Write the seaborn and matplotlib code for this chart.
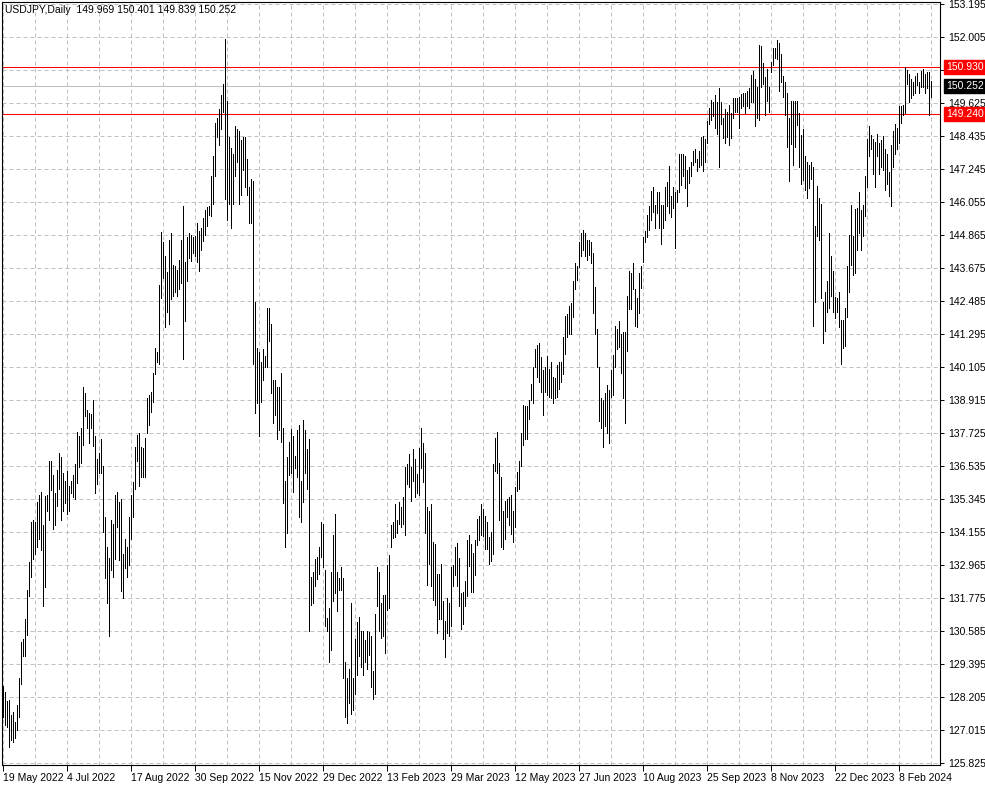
import numpy as np
import pandas as pd
import matplotlib
matplotlib.use("Agg")
import matplotlib.pyplot as plt
import matplotlib.transforms as mtransforms
import seaborn as sns

symbol = "USDJPY,Daily"
last_bar = [149.969, 150.401, 149.839, 150.252]  # open high low close of the last bar

# daily highs / lows, 19 May 2022 .. 1 Mar 2024
highs = [
    128.6, 128.37, 128.05, 128.1, 127.57, 127.65, 127.3, 127.9, 128.9, 130.2,
    130.28, 131.0, 132.05, 133.06, 134.5, 134.57, 134.5, 135.22, 135.5, 135.58,
    134.4, 135.45, 135.5, 136.7, 136.7, 136.2, 135.57, 136.4, 137.0, 136.87,
    136.27, 136.0, 136.37, 135.8, 136.0, 136.2, 136.6, 137.77, 137.6, 137.9,
    139.4, 139.15, 138.57, 138.43, 138.4, 138.9, 137.6, 136.8, 137.0, 137.5,
    136.55, 134.7, 133.6, 133.2, 134.57, 134.46, 135.5, 135.58, 135.22, 135.33,
    133.35, 133.92, 133.63, 134.7, 135.5, 135.94, 137.23, 137.66, 137.74, 137.23,
    137.2, 137.55, 139.0, 139.1, 139.2, 139.9, 140.8, 140.66, 143.07, 144.98,
    144.6, 144.09, 143.52, 144.7, 144.95, 143.8, 143.73, 143.62, 143.95, 144.7,
    145.9, 143.88, 144.8, 144.92, 144.88, 144.8, 144.84, 145.3, 145.0, 145.13,
    145.46, 145.78, 145.86, 145.9, 146.98, 147.7, 148.9, 149.1, 149.4, 149.9,
    150.3, 151.95, 149.7, 148.4, 148.0, 147.8, 148.8, 148.7, 148.6, 148.3,
    148.4, 148.4, 147.6, 146.6, 146.9, 146.8, 142.46, 140.8, 140.63, 140.3,
    140.74, 140.5, 142.25, 142.25, 141.64, 139.62, 139.62, 139.4, 139.37, 139.9,
    137.9, 136.0, 136.87, 137.4, 137.88, 137.6, 136.9, 137.85, 138.0, 136.0,
    138.18, 137.85, 137.16, 137.5, 132.55, 132.73, 133.17, 133.27, 133.63, 134.5,
    134.46, 132.8, 131.07, 131.43, 132.73, 134.06, 134.8, 132.7, 132.5, 132.9,
    132.5, 129.45, 128.9, 129.2, 131.6, 128.9, 130.3, 130.9, 131.1, 130.6,
    130.6, 130.27, 130.6, 130.56, 130.42, 129.16, 131.2, 132.9, 132.73, 131.6,
    131.87, 131.9, 132.98, 133.34, 134.4, 134.5, 135.15, 134.57, 135.22, 135.07,
    135.4, 136.5, 136.6, 136.95, 136.5, 137.13, 136.8, 136.23, 137.2, 137.92,
    137.38, 137.02, 135.04, 134.93, 135.15, 133.8, 133.73, 132.65, 132.65, 133.0,
    131.65, 130.96, 131.79, 131.58, 132.9, 132.98, 133.62, 133.77, 133.2, 131.94,
    131.98, 132.4, 133.88, 134.06, 133.73, 133.4, 133.85, 134.64, 134.72, 135.15,
    135.0, 134.72, 134.5, 133.96, 134.17, 136.6, 137.56, 137.77, 136.66, 136.15,
    134.9, 135.26, 135.36, 135.4, 135.5, 134.9, 135.76, 136.33, 136.7, 137.74,
    138.75, 138.7, 138.7, 138.93, 139.5, 140.1, 140.74, 140.9, 140.96, 140.45,
    139.98, 140.09, 140.5, 140.05, 140.3, 139.76, 139.7, 140.16, 140.3, 140.27,
    141.2, 141.93, 142.0, 142.3, 142.42, 143.2, 143.87, 143.73, 144.6, 144.92,
    145.03, 144.92, 144.7, 144.7, 144.63, 144.23, 143.0, 141.46, 140.12, 139.0,
    138.93, 139.18, 139.44, 139.26, 140.0, 140.52, 141.6, 141.46, 141.75, 141.28,
    141.35, 141.35, 142.68, 143.55, 143.5, 143.87, 142.9, 142.6, 143.5, 143.73,
    144.8, 145.0, 145.6, 145.9, 146.44, 146.6, 145.95, 146.4, 146.4, 145.95,
    145.95, 146.6, 146.77, 147.37, 146.26, 146.6, 146.4, 146.5, 147.8, 147.8,
    147.8, 147.7, 147.2, 147.3, 147.5, 147.9, 147.95, 147.6, 147.9, 148.4,
    148.45, 148.34, 148.98, 149.43, 149.72, 149.65, 149.9, 149.65, 150.15, 149.65,
    149.1, 149.42, 149.3, 149.54, 149.27, 149.8, 149.8, 149.8, 149.84, 149.95,
    150.0, 149.98, 150.05, 150.16, 150.63, 150.77, 150.5, 150.2, 151.7, 151.67,
    151.08, 150.55, 150.84, 150.2, 151.1, 151.6, 151.6, 151.9, 151.8, 151.38,
    150.6, 150.38, 150.0, 149.1, 149.7, 149.7, 149.7, 149.7, 149.27, 148.48,
    148.67, 147.7, 147.5, 147.4, 147.5, 147.3, 145.2, 146.62, 146.2, 146.0,
    142.46, 142.8, 143.2, 144.92, 144.1, 143.58, 142.64, 142.6, 142.82, 141.8,
    141.8, 142.25, 143.73, 144.88, 145.96, 144.84, 145.8, 145.85, 146.4, 145.76,
    145.96, 147.0, 148.34, 148.8, 148.48, 148.34, 148.23, 148.52, 148.2, 148.3,
    148.45, 147.98, 147.77, 147.12, 148.1, 148.6, 148.88, 148.74, 149.5, 149.5,
    149.54, 150.94, 150.83, 150.66, 150.5, 150.37, 150.6, 150.7, 150.4, 150.77,
    150.84, 150.66, 150.73, 150.73, 150.401,
]
lows = [
    127.5, 127.2, 127.14, 126.4, 126.67, 126.6, 126.74, 127.0, 127.5, 128.66,
    129.67, 129.67, 130.45, 131.84, 132.55, 133.17, 133.35, 133.6, 133.9, 133.5,
    131.47, 132.17, 134.9, 134.6, 135.67, 134.28, 134.4, 135.1, 135.7, 134.6,
    134.9, 135.2, 134.8, 134.9, 135.55, 135.4, 135.36, 135.93, 136.5, 136.66,
    137.3, 138.35, 137.9, 137.38, 137.9, 137.27, 135.55, 135.87, 136.3, 136.3,
    134.17, 132.48, 131.58, 130.4, 132.77, 132.52, 133.17, 134.35, 133.13, 132.02,
    131.76, 132.87, 132.55, 132.95, 133.92, 134.68, 135.72, 136.7, 135.8, 136.15,
    136.15, 136.15, 137.74, 138.0, 138.5, 138.85, 139.87, 140.27, 140.23, 142.6,
    143.33, 141.53, 142.08, 141.64, 142.54, 142.65, 142.8, 142.65, 142.9, 143.15,
    140.38, 141.75, 143.2, 144.05, 143.91, 144.23, 144.09, 143.9, 143.55, 144.34,
    144.66, 144.88, 145.2, 145.57, 145.55, 146.0, 147.0, 148.4, 148.1, 148.7,
    149.3, 146.15, 145.4, 146.0, 145.1, 146.0, 147.0, 147.5, 146.0, 146.3,
    147.2, 146.6, 146.3, 145.3, 145.3, 140.2, 138.46, 138.8, 137.63, 138.86,
    139.65, 140.1, 140.12, 141.06, 139.18, 138.07, 138.36, 137.5, 137.85, 137.4,
    135.2, 133.6, 134.13, 136.2, 136.28, 135.6, 136.48, 136.15, 134.68, 134.5,
    135.25, 136.28, 135.7, 130.58, 131.54, 131.6, 132.2, 132.45, 132.63, 133.27,
    132.88, 130.78, 130.6, 129.48, 129.9, 131.68, 131.97, 131.3, 132.05, 132.05,
    128.9, 127.5, 127.25, 128.0, 127.6, 127.75, 128.33, 129.0, 129.7, 129.27,
    129.0, 129.48, 129.2, 129.73, 128.55, 128.12, 128.33, 131.5, 130.6, 130.35,
    130.4, 129.8, 131.36, 131.4, 133.6, 133.93, 133.96, 134.13, 134.43, 134.35,
    134.46, 134.06, 135.9, 135.76, 135.26, 136.0, 135.4, 135.55, 135.5, 136.48,
    135.94, 134.13, 132.26, 133.0, 132.2, 131.71, 131.54, 130.53, 131.03, 131.0,
    130.3, 129.63, 130.53, 130.42, 130.75, 132.2, 132.62, 132.2, 131.5, 130.64,
    130.82, 131.5, 131.83, 132.94, 132.0, 131.98, 132.62, 133.7, 133.88, 134.06,
    134.0, 133.53, 133.53, 133.0, 133.1, 133.35, 136.34, 136.3, 134.6, 133.63,
    133.53, 133.9, 134.68, 134.4, 134.1, 133.8, 134.35, 135.62, 135.7, 136.52,
    137.3, 137.5, 137.5, 138.23, 138.9, 138.8, 140.12, 139.76, 139.55, 139.2,
    138.38, 139.2, 139.1, 139.04, 139.0, 138.82, 139.0, 139.04, 139.3, 139.55,
    139.87, 140.56, 141.2, 141.28, 141.3, 141.9, 142.93, 143.26, 143.7, 144.12,
    144.34, 144.1, 143.95, 144.16, 143.87, 142.05, 141.28, 140.12, 138.14, 137.92,
    137.23, 137.96, 137.74, 137.38, 139.04, 139.11, 140.12, 140.74, 140.81, 139.9,
    139.0, 138.1, 140.67, 142.18, 142.2, 142.9, 141.57, 141.53, 142.05, 142.97,
    143.9, 144.6, 144.8, 145.06, 145.42, 145.7, 145.13, 145.67, 145.1, 144.55,
    145.13, 145.42, 145.9, 145.67, 145.53, 145.85, 144.4, 146.06, 146.4, 146.66,
    146.98, 146.55, 145.9, 146.73, 147.0, 147.4, 147.5, 147.16, 147.3, 147.4,
    147.16, 147.5, 148.2, 148.87, 149.0, 149.14, 148.74, 148.52, 147.33, 148.87,
    148.38, 148.2, 148.4, 148.1, 148.38, 149.1, 149.3, 149.3, 148.74, 149.45,
    149.5, 149.27, 149.5, 149.45, 149.65, 149.65, 148.8, 149.1, 149.0, 150.2,
    150.3, 149.2, 149.7, 149.3, 150.73, 151.0, 151.24, 151.2, 150.05, 150.4,
    149.85, 149.2, 148.05, 146.8, 148.15, 147.4, 148.05, 148.84, 147.33, 146.7,
    146.84, 146.5, 146.2, 146.55, 146.88, 141.6, 142.46, 144.84, 144.7, 142.6,
    140.98, 141.42, 142.08, 142.25, 142.68, 142.08, 141.86, 142.08, 141.53, 140.2,
    140.8, 140.85, 141.9, 142.82, 143.8, 143.44, 143.48, 144.34, 144.92, 144.34,
    144.84, 145.56, 146.6, 147.7, 147.98, 147.05, 146.6, 147.7, 147.05, 147.33,
    147.22, 146.5, 146.7, 146.26, 145.9, 147.3, 147.77, 147.95, 148.2, 148.92,
    149.2, 149.27, 150.3, 149.65, 149.8, 149.9, 150.0, 150.27, 150.0, 150.2,
    150.2, 150.0, 150.16, 149.2, 149.839,
]

date_labels = ["19 May 2022", "4 Jul 2022", "17 Aug 2022", "30 Sep 2022", "15 Nov 2022",
               "29 Dec 2022", "13 Feb 2023", "29 Mar 2023", "12 May 2023", "27 Jun 2023",
               "10 Aug 2023", "25 Sep 2023", "8 Nov 2023", "22 Dec 2023", "8 Feb 2024"]
price_levels = [125.825, 127.015, 128.205, 129.395, 130.585, 131.775, 132.965, 134.155,
                135.345, 136.535, 137.725, 138.915, 140.105, 141.295, 142.485, 143.675,
                144.865, 146.055, 147.245, 148.435, 149.625, 150.815, 152.005, 153.195]
red_levels = [150.930, 149.240]
bid_level = 150.252

sns.set_theme(style="white")
plt.rcParams["font.family"] = ["Liberation Sans", "DejaVu Sans"]

n = len(highs)
bars = pd.DataFrame({
    "bar": np.repeat(np.arange(n), 2),
    "price": np.column_stack([lows, highs]).ravel(),
})

W, H = 985, 787
fig = plt.figure(figsize=(W / 100, H / 100), dpi=100)
ax = fig.add_axes([2 / W, 22 / H, 938 / W, 763 / H])

# one 1-px vertical line per day, low to high
sns.lineplot(data=bars, x="bar", y="price", units="bar", estimator=None,
             color="black", linewidth=0.5, antialiased=False, ax=ax, zorder=3)

px = 1.19 / 33  # price per pixel
ax.set_xlim(-0.5, 468.5)
ax.set_ylim(125.825 - 2 * px, 153.195 + 2 * px)
ax.set_xlabel("")
ax.set_ylabel("")

# price axis on the right
ax.yaxis.tick_right()
ax.set_yticks(price_levels)
boxed = red_levels + [bid_level]
ax.set_yticklabels(["" if min(abs(p - b) for b in boxed) < 0.25 else f"{p:.3f}"
                    for p in price_levels])
ax.tick_params(axis="y", which="major", direction="out", length=3, width=0.7,
               pad=3, labelsize=7.5, colors="black", right=True, left=False)

# time axis
ax.set_xticks(np.arange(len(date_labels)) * 32)
ax.set_xticklabels(date_labels, ha="left")
ax.set_xticks(np.arange(16, n, 32), minor=True)
ax.tick_params(axis="x", which="major", direction="out", length=4, width=0.7,
               pad=2, labelsize=7.5, colors="black", bottom=True)
ax.tick_params(axis="x", which="minor", length=0)

ax.grid(which="both", color="#c0c0c0", linestyle=(0, (4, 3)), linewidth=0.72, zorder=0)
ax.set_axisbelow(True)

for s in ax.spines.values():
    s.set_visible(True)
    s.set_color("black")
    s.set_linewidth(0.8)

# horizontal levels
ax.axhline(bid_level, color="#c0c0c0", linewidth=0.75, zorder=2)
for lvl in red_levels:
    ax.axhline(lvl, color="red", linewidth=0.75, zorder=2)

trans = mtransforms.blended_transform_factory(ax.transAxes, ax.transData)
for lvl, fc in [(red_levels[0], "red"), (bid_level, "black"), (red_levels[1], "red")]:
    ax.text(1 + 6 / 938, lvl, f"{lvl:.3f}", transform=trans, ha="left", va="center",
            fontsize=7.5, color="white", clip_on=False, zorder=6,
            bbox=dict(boxstyle="square,pad=0.2", fc=fc, ec=fc))

header = f"{symbol}  " + " ".join(f"{v:.3f}" for v in last_bar)
fig.text(5 / W, 1 - 10 / H, header, fontsize=7.5, ha="left", va="center", color="black")

fig.savefig("out.png", dpi=100)
